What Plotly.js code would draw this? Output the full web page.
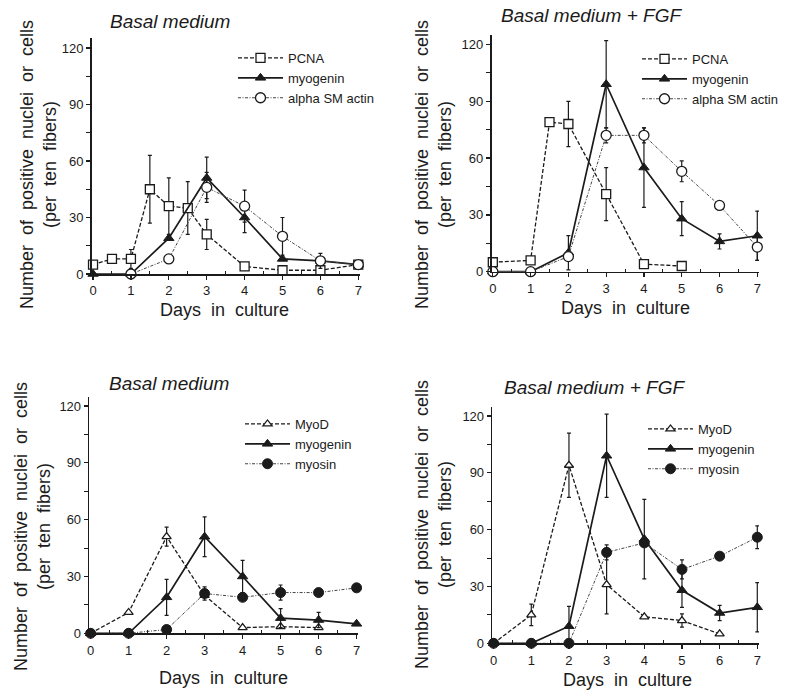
<!DOCTYPE html>
<html>
<head>
<meta charset="utf-8">
<script src="https://cdn.plot.ly/plotly-3.0.1.min.js"></script>
<style>html,body{margin:0;padding:0;background:#fff;}#chart{width:790px;height:692px;}</style>
</head>
<body>
<div id="chart"></div>
<script>
// ---------- DATA ----------
const dayTicks = [0, 1, 2, 3, 4, 5, 6, 7];
const yTickVals = [0, 30, 60, 90, 120];

// Panel A: Basal medium (PCNA / myogenin / alpha SM actin)
const aPcnaDays = [0, 0.5, 1, 1.5, 2, 2.5, 3, 4, 5, 6, 7];
const aPcna     = [5, 8, 8, 45, 36, 35, 21, 4, 2, 2, 5];
const aPcnaErr  = [0, 0, 5, 18, 15, 14, 8, 0, 0, 0, 0];
const aMyogDays = [0, 1, 2, 3, 4, 5, 6, 7];
const aMyog     = [0, 0, 19, 51, 30, 8, 7, 5];
const aMyogErr  = [0, 0, 0, 11, 8, 0, 0, 0];
const aActDays  = [1, 2, 3, 4, 5, 6, 7];
const aAct      = [0, 8, 46, 36, 20, 7, 5];
const aActErr   = [0, 0, 8, 8.5, 10, 4, 0];

// Panel B: Basal medium + FGF (PCNA / myogenin / alpha SM actin)
const bPcnaDays = [0, 1, 1.5, 2, 3, 4, 5];
const bPcna     = [5, 6, 79, 78, 41, 4, 3];
const bPcnaErr  = [0, 0, 0, 12, 14, 0, 0];
const bMyogDays = [0, 1, 2, 3, 4, 5, 6, 7];
const bMyog     = [0, 0, 10, 99, 55, 28, 16, 19];
const bMyogErr  = [0, 0, 9, 23, 21, 9, 4, 13];
const bActDays  = [0, 1, 2, 3, 4, 5, 6, 7];
const bAct      = [0, 0, 8, 72, 72, 53, 35, 13];
const bActErr   = [0, 0, 0, 4, 4, 5.5, 0, 7];

// Panel C: Basal medium (MyoD / myogenin / myosin)
const cMyodDays = [0, 1, 2, 3, 4, 5, 6];
const cMyod     = [0, 11, 51, 20, 3, 3.5, 3];
const cMyodErr  = [0, 0, 5, 0, 0, 0, 0];
const cMyogDays = [0, 1, 2, 3, 4, 5, 6, 7];
const cMyog     = [0, 0, 19, 51, 30, 8, 7, 5];
const cMyogErr  = [0, 0, 9.5, 10.5, 8.5, 5, 4, 0];
const cMyosDays = [0, 1, 2, 3, 4, 5, 6, 7];
const cMyos     = [0, 0, 2, 21, 19, 21.5, 21.5, 24];
const cMyosErr  = [0, 0, 0, 3.5, 0, 4, 0, 0];

// Panel D: Basal medium + FGF (MyoD / myogenin / myosin)
const dMyodDays = [0, 1, 2, 3, 4, 5, 6];
const dMyod     = [0, 15, 94, 31, 14, 12, 5];
const dMyodErr  = [0, 5.7, 17, 15.5, 0, 3.5, 0];
const dMyogDays = [0, 1, 2, 3, 4, 5, 6, 7];
const dMyog     = [0, 0, 9, 99, 55, 28, 16, 19];
const dMyogErr  = [0, 0, 10.5, 22, 21, 9, 4, 13];
const dMyosDays = [0, 1, 2, 3, 4, 5, 6, 7];
const dMyos     = [0, 0, 0, 48, 53, 39, 46, 56];
const dMyosErr  = [0, 0, 0, 4, 0, 5, 0, 6];

const panelTitles = ['Basal medium', 'Basal medium + FGF', 'Basal medium', 'Basal medium + FGF'];
const xTitle = 'Days&nbsp; in&nbsp; culture';
const yTitle = 'Number&nbsp; of&nbsp; positive&nbsp; nuclei&nbsp; or&nbsp; cells<br>(per&nbsp; ten&nbsp; fibers)';

// ---------- STYLES ----------
const W = 790, H = 692;
const INK = '#1b1b1b';
const styles = {
  pcna:  {line: {color: INK, width: 1.3, dash: '4px,2px'}, marker: {symbol: 'square', size: 9, color: '#fff', line: {color: INK, width: 1.3}}},
  myog:  {line: {color: INK, width: 1.7}, marker: {symbol: 'triangle-up', size: 9, color: INK, line: {color: INK, width: 1}}},
  act:   {line: {color: '#444', width: 1.0, dash: '3px,1.5px,1px,1.5px'}, marker: {symbol: 'circle', size: 10, color: '#fff', line: {color: INK, width: 1.3}}},
  myod:  {line: {color: INK, width: 1.3, dash: '4px,2px'}, marker: {symbol: 'triangle-up', size: 8, color: '#fff', line: {color: INK, width: 1.3}}},
  myos:  {line: {color: '#444', width: 1.0, dash: '3px,1.5px,1px,1.5px'}, marker: {symbol: 'circle', size: 10, color: INK, line: {color: INK, width: 1}}}
};

function tr(name, x, y, err, st, ax, leg) {
  return {
    type: 'scatter', mode: 'lines+markers', name: name, x: x, y: y,
    xaxis: 'x' + ax, yaxis: 'y' + ax, legend: leg, cliponaxis: false,
    line: st.line, marker: st.marker,
    error_y: {type: 'data', array: err, visible: true, color: INK, thickness: 1.2, width: 2}
  };
}

const traces = [
  tr('PCNA', aPcnaDays, aPcna, aPcnaErr, styles.pcna, '', 'legend'),
  tr('myogenin', aMyogDays, aMyog, aMyogErr, styles.myog, '', 'legend'),
  tr('alpha SM actin', aActDays, aAct, aActErr, styles.act, '', 'legend'),
  tr('PCNA', bPcnaDays, bPcna, bPcnaErr, styles.pcna, '2', 'legend2'),
  tr('myogenin', bMyogDays, bMyog, bMyogErr, styles.myog, '2', 'legend2'),
  tr('alpha SM actin', bActDays, bAct, bActErr, styles.act, '2', 'legend2'),
  tr('MyoD', cMyodDays, cMyod, cMyodErr, styles.myod, '3', 'legend3'),
  tr('myogenin', cMyogDays, cMyog, cMyogErr, styles.myog, '3', 'legend3'),
  tr('myosin', cMyosDays, cMyos, cMyosErr, styles.myos, '3', 'legend3'),
  tr('MyoD', dMyodDays, dMyod, dMyodErr, styles.myod, '4', 'legend4'),
  tr('myogenin', dMyogDays, dMyog, dMyogErr, styles.myog, '4', 'legend4'),
  tr('myosin', dMyosDays, dMyos, dMyosErr, styles.myos, '4', 'legend4')
];

// panel geometry in pixels: [left, right, top, bottom]
const boxes = [
  [91.7, 360, 38, 274],
  [491.5, 759, 35, 271.7],
  [89.3, 358.3, 396.7, 633.3],
  [492.3, 759, 406.7, 643.3]
];
const yTop = [125.3, 125.0, 124.9, 124.9];

const layout = {
  width: W, height: H, margin: {l: 0, r: 0, t: 0, b: 0},
  paper_bgcolor: '#fff', plot_bgcolor: 'rgba(0,0,0,0)',
  font: {family: 'Liberation Sans, Arial, sans-serif', color: INK},
  showlegend: true, annotations: []
};

const legendPos = [[233, 43], [637, 44], [240, 409], [643, 414]];
const titlePos = [[170, 22], [591, 16], [169, 384], [594, 387]];
const xTitlePos = [[224, 310], [625, 308], [223, 678], [627, 680]];
const yTitlePos = [[38, 165], [433, 165], [32, 527], [433, 525]];

boxes.forEach((b, i) => {
  const s = i === 0 ? '' : String(i + 1);
  layout['xaxis' + s] = {
    domain: [b[0] / W, b[1] / W], anchor: 'y' + s,
    range: [-0.035, 7.045], tickvals: dayTicks, ticks: 'outside', ticklen: 4, tickwidth: 1.3, tickcolor: INK,
    showline: true, linewidth: 1.6, linecolor: INK, showgrid: false, zeroline: false,
    tickfont: {size: 13, color: INK},
    minor: {tickvals: [0.5, 1.5, 2.5, 3.5, 4.5, 5.5, 6.5], ticks: 'inside', ticklen: 3, tickwidth: 1, tickcolor: INK}
  };
  layout['yaxis' + s] = {
    domain: [1 - b[3] / H, 1 - b[2] / H], anchor: 'x' + s,
    range: [0, yTop[i]], tickvals: yTickVals, ticks: 'outside', ticklen: 4, tickwidth: 1.3, tickcolor: INK,
    showline: true, linewidth: 1.6, linecolor: INK, showgrid: false, zeroline: false,
    tickfont: {size: 13, color: INK},
    minor: {tickvals: [15, 45, 75, 105], ticks: 'outside', ticklen: 4, tickwidth: 1, tickcolor: INK}
  };
  const lk = i === 0 ? 'legend' : 'legend' + (i + 1);
  layout[lk] = {
    x: legendPos[i][0] / W, y: 1 - legendPos[i][1] / H, xanchor: 'left', yanchor: 'top',
    bgcolor: 'rgba(0,0,0,0)', borderwidth: 0, font: {size: 13, color: INK},
    tracegroupgap: 0, itemclick: false, itemwidth: 45
  };
  layout.annotations.push({
    text: '<i>' + panelTitles[i] + '</i>', xref: 'paper', yref: 'paper',
    x: titlePos[i][0] / W, y: 1 - titlePos[i][1] / H, xanchor: 'center', yanchor: 'middle',
    showarrow: false, font: {size: 19, color: INK}
  });
  layout.annotations.push({
    text: xTitle, xref: 'paper', yref: 'paper',
    x: xTitlePos[i][0] / W, y: 1 - xTitlePos[i][1] / H, xanchor: 'center', yanchor: 'middle',
    showarrow: false, font: {size: 18, color: INK}
  });
  layout.annotations.push({
    text: yTitle, xref: 'paper', yref: 'paper', textangle: -90,
    x: yTitlePos[i][0] / W, y: 1 - yTitlePos[i][1] / H, xanchor: 'center', yanchor: 'middle',
    showarrow: false, font: {size: 18, color: INK}
  });
});

Plotly.newPlot('chart', traces, layout, {staticPlot: true});
</script>
</body>
</html>
